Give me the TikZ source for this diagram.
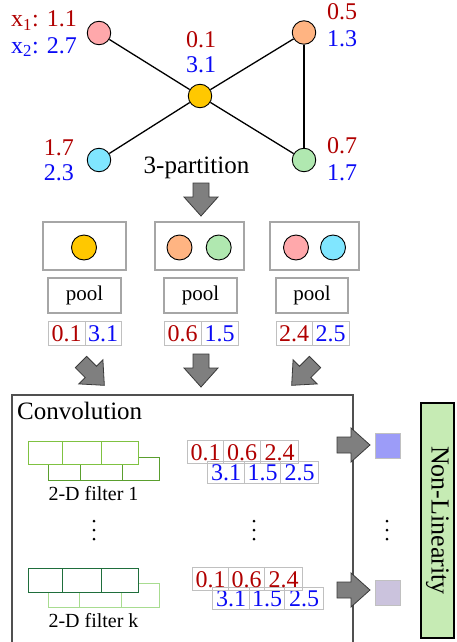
\documentclass[tikz,border=0pt]{standalone}
\usepackage{fontspec}
\setmainfont{Liberation Serif}
\definecolor{vred}{HTML}{B00000}
\definecolor{vblue}{HTML}{0A0AF5}
\definecolor{cpink}{HTML}{FFA8AB}
\definecolor{cyellow}{HTML}{FFC800}
\definecolor{ccyan}{HTML}{80E6FF}
\definecolor{corange}{HTML}{FFB482}
\definecolor{cgreen}{HTML}{B0E8B0}
\definecolor{boxgray}{HTML}{A6A6A6}
\definecolor{cellgray}{HTML}{C0C0C0}
\definecolor{arrowgray}{HTML}{7F7F7F}
\definecolor{arrowdark}{HTML}{3A3A3A}
\definecolor{convgray}{HTML}{505050}
\definecolor{fonetop}{HTML}{7FC241}
\definecolor{fonebot}{HTML}{5A9E2E}
\definecolor{fktop}{HTML}{1F6E3C}
\definecolor{fkbot}{HTML}{A8DC90}
\definecolor{sqone}{HTML}{9C9CF8}
\definecolor{sqk}{HTML}{CBC3DD}
\definecolor{nlgreen}{HTML}{C6EBB4}
\begin{document}
\begin{tikzpicture}[x=1pt,y=-1pt,
  vtx/.style={circle, draw=black, line width=0.9pt, minimum size=23.5pt, inner sep=0pt},
  gvtx/.style={circle, draw=black, line width=0.9pt, minimum size=25pt, inner sep=0pt},
  edge/.style={line width=1.3pt},
  lab/.style={font=\fontsize{24}{28}\selectfont, inner sep=0pt},
  grpbox/.style={draw=boxgray, line width=1.3pt, inner sep=0pt},
  poolbox/.style={draw=boxgray, line width=1.3pt, inner sep=0pt, minimum height=35pt, font=\fontsize{21}{24}\selectfont},
  cell/.style={draw=cellgray, line width=1pt, inner sep=0pt, minimum height=23pt, text height=16.5pt, text depth=0pt, font=\fontsize{24}{24}\selectfont},
  fcell/.style={draw=#1, fill=white, line width=1.2pt, inner sep=0pt, anchor=north west},
  dot/.style={circle, fill=black, inner sep=0pt, minimum size=3pt},
  blockarrow/.pic={\draw[fill=arrowgray, draw=arrowdark, line width=0.8pt]
     (-8,0) -- (8,0) -- (8,14) -- (17,14) -- (0,33) -- (-17,14) -- (-8,14) -- cycle;}
]
\useasboundingbox (0,0) rectangle (456,642);

% ---------- graph ----------
\node[vtx, fill=cpink]   (pink)   at (99,33) {};
\node[vtx, fill=cyellow] (yellow) at (200,96) {};
\node[vtx, fill=ccyan]   (cyan)   at (99,160) {};
\node[vtx, fill=corange] (orange) at (304,32.5) {};
\node[vtx, fill=cgreen]  (green)  at (304,160) {};
\draw[edge] (pink) -- (yellow);
\draw[edge] (cyan) -- (yellow);
\draw[edge] (yellow) -- (orange);
\draw[edge] (yellow) -- (green);
\draw[edge] (orange) -- (green);

\node[lab, text=vred, anchor=base east]  (lp1) at (77,27) {x\textsubscript{1}: 1.1};
\node[lab, text=vblue, anchor=base east] (lp2) at (77,53) {x\textsubscript{2}: 2.7};
\node[lab, text=vred, anchor=base]  (ly1) at (201,48) {0.1};
\node[lab, text=vblue, anchor=base] (ly2) at (201,73) {3.1};
\node[lab, text=vred, anchor=base east]  (lc1) at (74,155) {1.7};
\node[lab, text=vblue, anchor=base east] (lc2) at (74,180) {2.3};
\node[lab, text=vred, anchor=base west]  (lo1) at (327,20) {0.5};
\node[lab, text=vblue, anchor=base west] (lo2) at (327,47) {1.3};
\node[lab, text=vred, anchor=base west]  (lg1) at (327,153) {0.7};
\node[lab, text=vblue, anchor=base west] (lg2) at (327,180) {1.7};

\node[font=\fontsize{25}{28}\selectfont, inner sep=0pt, anchor=base] (part) at (196.5,173) {3-partition};

\pic at (201,183) {blockarrow};

% ---------- groups ----------
\node[grpbox, minimum width=83pt, minimum height=48pt] (g1) at (84.5,246) {};
\node[grpbox, minimum width=89pt, minimum height=48pt] (g2) at (199.5,246) {};
\node[grpbox, minimum width=89pt, minimum height=48pt] (g3) at (314.5,246) {};
\node[gvtx, fill=cyellow] (g1a) at (84,247.5) {};
\node[gvtx, fill=corange] (g2a) at (179.5,247.5) {};
\node[gvtx, fill=cgreen]  (g2b) at (218.7,247.5) {};
\node[gvtx, fill=cpink]   (g3a) at (296,247.5) {};
\node[gvtx, fill=ccyan]   (g3b) at (333,247.5) {};

\node[poolbox, minimum width=73pt] (p1) at (84.5,295.5) {pool};
\node[poolbox, minimum width=73pt] (p2) at (200.5,295.5) {pool};
\node[poolbox, minimum width=72pt] (p3) at (312,295.5) {pool};

\node[cell, minimum width=37pt, minimum height=24pt, text=vred]  (v1a) at (66.5,333) {0.1};
\node[cell, minimum width=36pt, minimum height=24pt, text=vblue] (v1b) at (103,333) {3.1};
\node[cell, minimum width=37pt, minimum height=24pt, text=vred]  (v2a) at (182.5,333) {0.6};
\node[cell, minimum width=37pt, minimum height=24pt, text=vblue] (v2b) at (219.5,333) {1.5};
\node[cell, minimum width=36pt, minimum height=24pt, text=vred]  (v3a) at (294,333) {2.4};
\node[cell, minimum width=37pt, minimum height=24pt, text=vblue] (v3b) at (330.5,333) {2.5};

\pic[rotate=45]  at (81,362)  {blockarrow};
\pic at (201,354) {blockarrow};
\pic[rotate=-45] at (315,362) {blockarrow};

% ---------- convolution ----------
\draw[draw=convgray, line width=1.3pt] (12,645) -- (12,395) -- (353,395) -- (353,645);
\node[font=\fontsize{25}{28}\selectfont, inner sep=0pt, anchor=base west] (conv) at (17,419) {Convolution};

% filter 1
\node[fcell=fonebot, minimum width=32pt, minimum height=23pt] (f1b1) at (48,457) {};
\node[fcell=fonebot, minimum width=42pt, minimum height=23pt] (f1b2) at (80,457) {};
\node[fcell=fonebot, minimum width=37pt, minimum height=23pt] (f1b3) at (122,457) {};
\node[fcell=fonetop, minimum width=34pt, minimum height=23pt] (f1t1) at (28,441) {};
\node[fcell=fonetop, minimum width=39pt, minimum height=23pt] (f1t2) at (62,441) {};
\node[fcell=fonetop, minimum width=37pt, minimum height=23pt] (f1t3) at (101,441) {};
\node[font=\fontsize{20}{24}\selectfont, inner sep=0pt, anchor=base] (f1l) at (93.5,500) {2-D filter 1};

\node[dot] (d1a) at (94,521) {};
\node[dot] (d1b) at (94,530) {};
\node[dot] (d1c) at (94,539) {};

% filter k
\node[fcell=fkbot, minimum width=31pt, minimum height=24pt] (fkb1) at (48,583) {};
\node[fcell=fkbot, minimum width=42pt, minimum height=24pt] (fkb2) at (79,583) {};
\node[fcell=fkbot, minimum width=38pt, minimum height=24pt] (fkb3) at (121,583) {};
\node[fcell=fktop, minimum width=34pt, minimum height=24pt] (fkt1) at (28,568) {};
\node[fcell=fktop, minimum width=39pt, minimum height=24pt] (fkt2) at (62,568) {};
\node[fcell=fktop, minimum width=37pt, minimum height=24pt] (fkt3) at (101,568) {};
\node[font=\fontsize{20}{24}\selectfont, inner sep=0pt, anchor=base] (fkl) at (93.5,627) {2-D filter k};

% output rows 1
\node[cell, anchor=north west, minimum width=37pt, minimum height=22pt, text=vblue] (o1b1) at (207,461) {3.1};
\node[cell, anchor=north west, minimum width=36pt, minimum height=22pt, text=vblue] (o1b2) at (244,461) {1.5};
\node[cell, anchor=north west, minimum width=38pt, minimum height=22pt, text=vblue] (o1b3) at (280,461) {2.5};
\node[cell, anchor=north west, minimum width=36pt, minimum height=23pt, text=vred] (o1r1) at (187,440) {0.1};
\node[cell, anchor=north west, minimum width=37pt, minimum height=23pt, text=vred] (o1r2) at (223,440) {0.6};
\node[cell, anchor=north west, minimum width=38pt, minimum height=23pt, text=vred] (o1r3) at (260,440) {2.4};

\node[dot] (d2a) at (254,521) {};
\node[dot] (d2b) at (254,530) {};
\node[dot] (d2c) at (254,539) {};

% output rows k
\node[cell, anchor=north west, minimum width=37pt, minimum height=22pt, text=vblue] (okb1) at (212,587) {3.1};
\node[cell, anchor=north west, minimum width=35pt, minimum height=22pt, text=vblue] (okb2) at (249,587) {1.5};
\node[cell, anchor=north west, minimum width=39pt, minimum height=22pt, text=vblue] (okb3) at (284,587) {2.5};
\node[cell, anchor=north west, minimum width=36pt, minimum height=23pt, text=vred] (okr1) at (192,567) {0.1};
\node[cell, anchor=north west, minimum width=36pt, minimum height=23pt, text=vred] (okr2) at (228,567) {0.6};
\node[cell, anchor=north west, minimum width=38pt, minimum height=23pt, text=vred] (okr3) at (264,567) {2.4};

% right arrows and squares
\pic[rotate=90] at (337,445) {blockarrow};
\pic[rotate=90] at (337,590) {blockarrow};
\node[fill=sqone, draw=cellgray, line width=0.6pt, minimum size=25pt, inner sep=0pt] (sq1) at (387.5,445.5) {};
\node[fill=sqk, draw=cellgray, line width=0.6pt, minimum size=25pt, inner sep=0pt] (sqk) at (387.5,592.5) {};
\node[dot] (d3a) at (387,521) {};
\node[dot] (d3b) at (387,530) {};
\node[dot] (d3c) at (387,539) {};

% non-linearity
\node[draw=black, fill=nlgreen, line width=1.2pt, rotate=-90, minimum width=235pt, minimum height=33pt, inner sep=0pt, font=\fontsize{26}{28}\selectfont] (nl) at (437.5,520.5) {Non-Linearity};
\end{tikzpicture}
\end{document}
